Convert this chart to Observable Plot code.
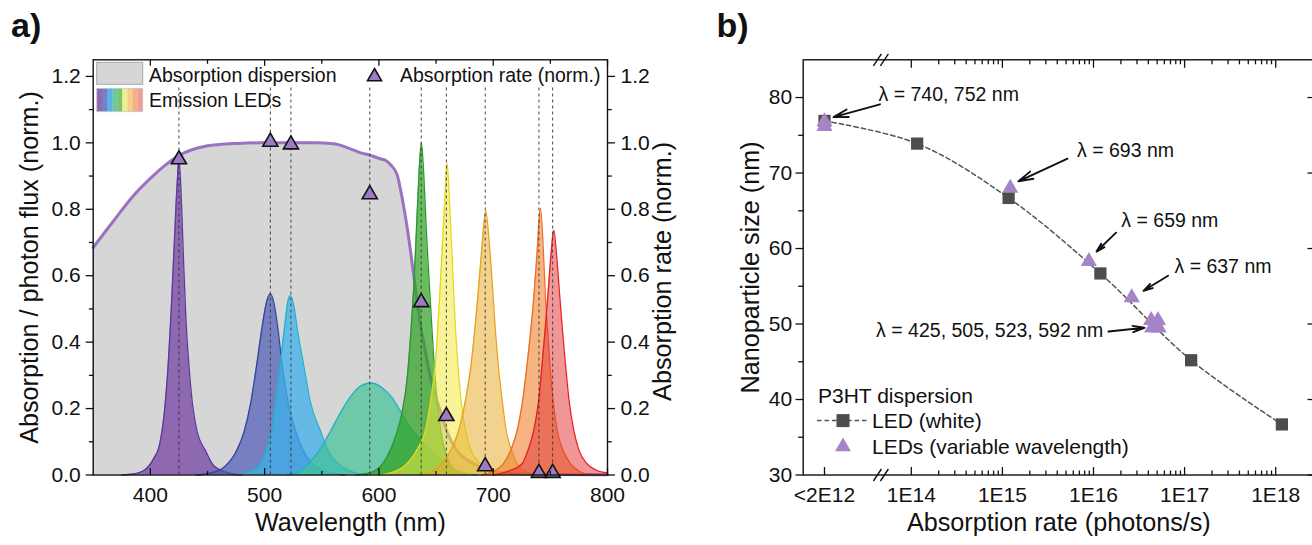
<!DOCTYPE html>
<html>
<head>
<meta charset="utf-8">
<script src="https://cdn.jsdelivr.net/npm/d3@7"></script>
<script src="https://cdn.jsdelivr.net/npm/@observablehq/plot@0.6"></script>
<style>
  html, body { margin: 0; padding: 0; background: #fff; }
  #page { position: relative; width: 1312px; height: 545px; overflow: hidden; background: #fff; }
  #page > * { position: absolute; top: 0; }
  #panelA { left: 0; width: 700px; height: 545px; }
  #panelB { left: 700px; width: 640px; height: 545px; }
  #overlay { left: 0; pointer-events: none; }
  #page svg { max-width: none !important; height: 545px !important; display: block; }
</style>
</head>
<body>
<div id="page"><div id="panelA"></div><div id="panelB"></div></div>
<script>
// ================= DATA: panel a =================
const absWavelength = [350,360,370,385,400,412,425,437,448,460,475,495,545,558,566,575,584,592,601,606,610,616,620,624.7,628,632,636,640,646,653,659,668,683,695,710,740,800];
const absValue      = [0.685,0.73,0.775,0.84,0.893,0.93,0.962,0.98,0.99,0.995,0.998,1.0,1.0,0.998,0.993,0.982,0.97,0.963,0.952,0.947,0.935,0.903,0.84,0.745,0.665,0.56,0.46,0.385,0.28,0.2,0.135,0.075,0.034,0.015,0.006,0.002,0.001];

const ledPeaks   = [425, 505, 523, 592, 637, 659, 693, 740, 752];
const ledAbsRate = [0.95, 1.003, 0.995, 0.845, 0.52, 0.177, 0.026, 0.006, 0.006];

const spec425 = [[375,0],[385,0.003],[395,0.015],[403,0.05],[408,0.09],[412,0.18],[415,0.3],[418,0.48],[421,0.7],[423.5,0.88],[425,0.95],[426.5,0.88],[429,0.65],[431,0.48],[434,0.32],[437,0.21],[441,0.13],[448,0.075],[455,0.03],[465,0.01],[480,0]];
const spec505 = [[440,0],[455,0.008],[465,0.025],[475,0.07],[482,0.13],[488,0.22],[493,0.33],[498,0.45],[502,0.525],[505,0.545],[508,0.52],[512,0.43],[515.2,0.334],[521,0.21],[527,0.134],[535,0.065],[543,0.03],[555,0.01],[570,0]];
const spec523 = [[475,0],[488,0.01],[496,0.03],[502,0.08],[506.4,0.134],[510,0.23],[513.7,0.334],[518,0.46],[520.5,0.525],[522.5,0.54],[525.5,0.51],[529,0.43],[534,0.334],[540,0.22],[548.7,0.134],[557,0.065],[566,0.03],[578,0.008],[590,0]];
const spec592 = [[520,0],[530,0.01],[540,0.04],[550,0.085],[558,0.134],[566,0.185],[575,0.235],[584,0.268],[593,0.277],[602,0.265],[611,0.235],[620,0.185],[628,0.14],[635.4,0.11],[643,0.08],[651,0.054],[660,0.03],[670,0.012],[685,0]];
const spec637 = [[580,0],[595,0.01],[607,0.054],[615,0.12],[620,0.184],[625,0.3],[628,0.434],[631,0.6],[632.8,0.735],[635,0.9],[637.2,1.0],[639.3,0.9],[641.5,0.735],[644,0.58],[646.5,0.434],[649,0.3],[652.3,0.184],[656,0.1],[659.7,0.054],[665,0.02],[675,0]];
const spec659 = [[600,0],[612,0.008],[624.6,0.034],[634,0.08],[640.7,0.134],[646,0.24],[649.4,0.334],[652.5,0.5],[654.7,0.635],[657.5,0.82],[659.7,0.938],[661.8,0.82],[664.3,0.635],[666.5,0.47],[669,0.334],[672,0.22],[675.7,0.134],[681,0.07],[688.8,0.034],[700,0.008],[710,0]];
const spec693 = [[635,0],[645,0.008],[655.3,0.034],[663,0.075],[669.8,0.134],[676,0.23],[680.7,0.334],[684,0.44],[686.5,0.534],[690,0.68],[693.5,0.795],[696.5,0.7],[700,0.534],[702,0.43],[704.3,0.334],[708,0.22],[711.3,0.134],[716,0.075],[721,0.034],[728,0.012],[738,0]];
const spec740 = [[690,0],[700,0.01],[709,0.034],[716,0.08],[721,0.134],[726,0.23],[729.7,0.334],[733,0.44],[735.5,0.534],[738,0.65],[741.4,0.803],[743.8,0.68],[745.7,0.534],[747.7,0.43],[749.5,0.334],[752.5,0.22],[756,0.134],[761,0.075],[767.6,0.034],[775,0.012],[785,0]];
const spec752 = [[700,0],[712,0.01],[725.3,0.034],[731,0.08],[735.5,0.134],[740,0.23],[742.8,0.334],[745.5,0.44],[747.7,0.534],[750.5,0.66],[753,0.737],[755.5,0.66],[758.3,0.534],[760.7,0.43],[763.2,0.334],[766.5,0.22],[770.5,0.134],[775,0.075],[782,0.034],[790,0.015],[800,0.006]];

const xTicksA = [400, 500, 600, 700, 800];
const xMinorA = [450, 550, 650, 750];
const yTicksA = [0, 0.2, 0.4, 0.6, 0.8, 1.0, 1.2];
const yMinorA = [0.1, 0.3, 0.5, 0.7, 0.9, 1.1];

// ================= DATA: panel b =================
const whiteRate = [2e12, 1.16e14, 1.17e15, 1.19e16, 1.18e17, 1.17e18];
const whiteSize = [76.9, 73.9, 66.7, 56.7, 45.2, 36.7];

const ledNmB   = [740, 752, 693, 659, 637, 425, 505, 523, 592];
const ledRateB = [2e12, 2e12, 1.22e15, 8.9e15, 2.63e16, 4.3e16, 5.1e16, 4.4e16, 5.2e16];
const ledSizeB = [76.8, 76.2, 68.0, 58.3, 53.5, 50.5, 50.5, 49.5, 49.5];

const annotText      = ["λ = 740, 752 nm", "λ = 693 nm", "λ = 659 nm", "λ = 637 nm", "λ = 425, 505, 523, 592 nm"];
const annotTextRate  = [2.28e13, 6.6e15, 2.02e16, 7.74e16, 1.28e16];
const annotTextSize  = [80.4, 72.9, 63.7, 57.6, 49.1];
const annotAlign     = ["start", "start", "start", "start", "end"];
const arrowFromRate  = [2.44e13, 5.19e15, 1.77e16, 6.59e16, 1.46e16];
const arrowFromSize  = [79.1, 71.9, 62.1, 56.4, 49.0];
const arrowToRate    = [3.0e12, 1.5e15, 1.08e16, 3.54e16, 3.63e16];
const arrowToSize    = [77.4, 68.9, 59.6, 54.4, 49.5];

const xTickRateB  = [2e12, 1e14, 1e15, 1e16, 1e17, 1e18];
const xTickLabelB = ["<2E12", "1E14", "1E15", "1E16", "1E17", "1E18"];
const yTicksB = [30, 40, 50, 60, 70, 80];
const yMinorB = [35, 45, 55, 65, 75];
const breakRate = 2.6e13;

// ================= STYLES =================
const FONT = '"Liberation Sans", Arial, Helvetica, sans-serif';
const INK = "#111";
const TITLE = 25.2;
const ledStyle = [
  {fill: "#7c4ca6", op: 0.8,  stroke: "#5a3a9a"},
  {fill: "#4d5bb6", op: 0.7,  stroke: "#34479c"},
  {fill: "#3eafeb", op: 0.75, stroke: "#1fb5c8"},
  {fill: "#41c297", op: 0.7,  stroke: "#22b2c4"},
  {fill: "#30a223", op: 0.72, stroke: "#2a9834"},
  {fill: "#f0ea40", op: 0.55, stroke: "#e2d81c"},
  {fill: "#e8ad2e", op: 0.55, stroke: "#e8a022"},
  {fill: "#ee822f", op: 0.6,  stroke: "#f06c20"},
  {fill: "#e12d2d", op: 0.5,  stroke: "#e62026"}
];
const tk = (dx, dy) => ({draw(c) { c.moveTo(0, 0); c.lineTo(dx, dy); }});
const tickStyle = {fill: "none", stroke: INK, strokeWidth: 1.3, r: 1};
const slashes = {draw(c) { c.moveTo(-8, 6); c.lineTo(0, -6); c.moveTo(-1, 6); c.lineTo(7, -6); }};

// ================= PANEL A =================
const absRows = absWavelength.map((w, i) => ({w, v: absValue[i]}));
const specs = [spec425, spec505, spec523, spec592, spec637, spec659, spec693, spec740, spec752];
const ledMarks = specs.flatMap((s, i) => {
  const rows = s.map(([w, v]) => ({w, v}));
  const st = ledStyle[i];
  return [
    Plot.areaY(rows, {x: "w", y: "v", fill: st.fill, fillOpacity: st.op, curve: "monotone-x"}),
    Plot.lineY(rows, {x: "w", y: "v", stroke: st.stroke, strokeWidth: 1.3, curve: "monotone-x"})
  ];
});
const ledRowsA = ledPeaks.map((p, i) => ({p, r: ledAbsRate[i]}));
const fmt1 = d3.format(".1f");

const chartA = Plot.plot({
  width: 700, height: 545,
  marginLeft: 92.7, marginRight: 93, marginTop: 59.3, marginBottom: 70.5,
  style: {fontFamily: FONT, fontSize: "21px", color: INK, background: "transparent", overflow: "visible"},
  x: {domain: [350, 800], axis: null},
  y: {domain: [0, 1.25], axis: null},
  marks: [
    Plot.areaY(absRows, {x: "w", y: "v", fill: "#d6d6d6", curve: "monotone-x"}),
    Plot.lineY(absRows, {x: "w", y: "v", stroke: "#9c72c0", strokeWidth: 3, curve: "monotone-x"}),
    ...ledMarks,
    Plot.ruleX(ledPeaks, {x: d => d, y1: 0, y2: 1.17, stroke: "#333", strokeWidth: 0.9, strokeDasharray: "3,3"}),
    Plot.dot(ledRowsA, {x: "p", y: "r", symbol: "triangle", r: 5.6, fill: "#9d7bc3", stroke: INK, strokeWidth: 1.6}),
    // ticks
    Plot.dot(xTicksA, {x: d => d, y: 0, symbol: tk(0, -7), ...tickStyle}),
    Plot.dot(xMinorA, {x: d => d, y: 0, symbol: tk(0, -4), ...tickStyle}),
    Plot.dot(xTicksA, {x: d => d, y: 1.25, symbol: tk(0, 6), ...tickStyle}),
    Plot.dot(xMinorA, {x: d => d, y: 1.25, symbol: tk(0, 4), ...tickStyle}),
    Plot.dot(yTicksA, {x: 350, y: d => d, symbol: tk(-7.5, 0), ...tickStyle}),
    Plot.dot(yMinorA, {x: 350, y: d => d, symbol: tk(-4.3, 0), ...tickStyle}),
    Plot.dot(yTicksA, {x: 800, y: d => d, symbol: tk(7.5, 0), ...tickStyle}),
    Plot.dot(yMinorA, {x: 800, y: d => d, symbol: tk(4.3, 0), ...tickStyle}),
    Plot.frame({stroke: INK, strokeWidth: 1.4}),
    // tick labels
    Plot.text(xTicksA, {x: d => d, y: 0, text: d => String(d), dy: 20.5, fontSize: 21}),
    Plot.text(yTicksA, {x: 350, y: d => d, text: d => fmt1(d), dx: -12.5, textAnchor: "end", fontSize: 21}),
    Plot.text(yTicksA, {x: 800, y: d => d, text: d => fmt1(d), dx: 13, textAnchor: "start", fontSize: 21}),
    // titles
    Plot.text(["Wavelength (nm)"], {frameAnchor: "bottom", dy: 56, fontSize: TITLE}),
    Plot.text(["Absorption / photon flux (norm.)"], {frameAnchor: "left", textAnchor: "middle", dx: -63.5, rotate: -90, fontSize: TITLE}),
    Plot.text(["Absorption rate (norm.)"], {frameAnchor: "right", textAnchor: "middle", dx: 55, dy: 4, rotate: -90, fontSize: TITLE})
  ]
});
document.getElementById("panelA").append(chartA);

// ================= PANEL B =================
const whiteRows = whiteRate.map((r, i) => ({r, s: whiteSize[i]}));
const ledRowsB = ledNmB.map((nm, i) => ({nm, r: ledRateB[i], s: ledSizeB[i]}));
const annots = annotText.map((t, i) => ({
  t, tr: annotTextRate[i], ts: annotTextSize[i], a: annotAlign[i],
  r1: arrowFromRate[i], s1: arrowFromSize[i], r2: arrowToRate[i], s2: arrowToSize[i]
}));
const xDomainB = [1.167e12, 2e12, 1e14, 2.667e18];
const minorB = d3.range(14, 18).flatMap(k => d3.range(2, 10).map(m => m * Math.pow(10, k)));
const majorTopB = xTickRateB.slice(1);

const chartB = Plot.plot({
  width: 640, height: 545,
  marginLeft: 102.7, marginRight: 26, marginTop: 59.3, marginBottom: 70.5,
  style: {fontFamily: FONT, fontSize: "21px", color: INK, background: "transparent", overflow: "visible"},
  x: {type: "log", domain: xDomainB, range: [102.7, 124, 210.8, 614], axis: null},
  y: {domain: [30, 85], axis: null},
  marks: [
    Plot.line(whiteRows, {x: "r", y: "s", stroke: "#555", strokeWidth: 1.5, strokeDasharray: "4.5,3", curve: "catmull-rom"}),
    Plot.dot(whiteRows, {x: "r", y: "s", symbol: "square", r: 6.9, fill: "#4d4d4d"}),
    Plot.dot(ledRowsB, {x: "r", y: "s", symbol: "triangle", r: 6, fill: "#a585c8"}),
    Plot.arrow(annots, {x1: "r1", y1: "s1", x2: "r2", y2: "s2", stroke: INK, strokeWidth: 1.9, headLength: 12, headAngle: 30}),
    Plot.text(annots.filter(d => d.a === "start"), {x: "tr", y: "ts", text: "t", textAnchor: "start", fontSize: 19.5}),
    Plot.text(annots.filter(d => d.a === "end"), {x: "tr", y: "ts", text: "t", textAnchor: "end", fontSize: 19.5}),
    // ticks
    Plot.dot(xTickRateB, {x: d => d, y: 30, symbol: tk(0, -8), ...tickStyle}),
    Plot.dot(minorB, {x: d => d, y: 30, symbol: tk(0, -4.5), ...tickStyle}),
    Plot.dot(majorTopB, {x: d => d, y: 85, symbol: tk(0, 8), ...tickStyle}),
    Plot.dot(minorB, {x: d => d, y: 85, symbol: tk(0, 4.5), ...tickStyle}),
    Plot.dot(yTicksB, {x: xDomainB[0], y: d => d, symbol: tk(-7.7, 0), ...tickStyle}),
    Plot.dot(yMinorB, {x: xDomainB[0], y: d => d, symbol: tk(-5, 0), ...tickStyle}),
    Plot.dot(yTicksB, {x: xDomainB[3], y: d => d, symbol: tk(-7, 0), ...tickStyle}),
    Plot.frame({stroke: INK, strokeWidth: 1.4}),
    Plot.dot([30, 85], {x: breakRate, y: d => d, symbol: slashes, ...tickStyle, strokeWidth: 1.4}),
    // tick labels
    Plot.text(xTickRateB, {x: d => d, y: 30, text: (d, i) => xTickLabelB[i], dy: 20.5, fontSize: 21}),
    Plot.text(yTicksB, {x: xDomainB[0], y: d => d, text: d => String(d), dx: -11, textAnchor: "end", fontSize: 21}),
    // titles
    Plot.text(["Absorption rate (photons/s)"], {frameAnchor: "bottom", dy: 56, fontSize: TITLE}),
    Plot.text(["Nanoparticle size (nm)"], {frameAnchor: "left", textAnchor: "middle", dx: -52, rotate: -90, fontSize: TITLE})
  ]
});
document.getElementById("panelB").append(chartB);

// ================= LEGENDS & PANEL LETTERS (overlay) =================
const rainbow = ["#8e68b0", "#7a7fc4", "#5fb1e4", "#6cc6ae", "#7dc46f", "#eeee90", "#f2d08c", "#f5b383", "#f29b9b"];
const stripeW = 46 / rainbow.length;
const stripes = rainbow.map((c, i) => `<rect x="${96.7 + i * stripeW}" y="88.3" width="${stripeW + 0.3}" height="23.4" fill="${c}"/>`).join("");
const overlay = `
<svg id="overlay" width="1312" height="545" xmlns="http://www.w3.org/2000/svg" style="font-family:${FONT.replace(/"/g, "'")};fill:${INK}">
  <text x="11" y="37.3" font-size="34" font-weight="bold">a)</text>
  <text x="716.5" y="37.3" font-size="34" font-weight="bold">b)</text>
  <rect x="96.7" y="62.3" width="46" height="22" fill="#d6d6d6" stroke="#a9a9a9" stroke-width="1"/>
  ${stripes}
  <rect x="96.7" y="88.3" width="46" height="23.4" fill="none" stroke="#c8c8c8" stroke-width="0.8"/>
  <text x="149" y="81.7" font-size="19.5">Absorption dispersion</text>
  <text x="149" y="107.3" font-size="19.5">Emission LEDs</text>
  <path d="M374.5,68.5 L381.5,80.7 L367.5,80.7 Z" fill="#9d7bc3" stroke="${INK}" stroke-width="1.6"/>
  <text x="400" y="81.7" font-size="19.5">Absorption rate (norm.)</text>
  <text x="818" y="402.5" font-size="21">P3HT dispersion</text>
  <line x1="817" y1="420.6" x2="868" y2="420.6" stroke="#555" stroke-width="1.5" stroke-dasharray="4.5,3"/>
  <rect x="836.5" y="414.1" width="13" height="13" fill="#4d4d4d"/>
  <text x="872" y="427.5" font-size="21">LED (white)</text>
  <path d="M843,437.5 L851,451.3 L835,451.3 Z" fill="#a585c8"/>
  <text x="872" y="453.6" font-size="21">LEDs (variable wavelength)</text>
</svg>`;
document.getElementById("page").insertAdjacentHTML("beforeend", overlay);
</script>
</body>
</html>
